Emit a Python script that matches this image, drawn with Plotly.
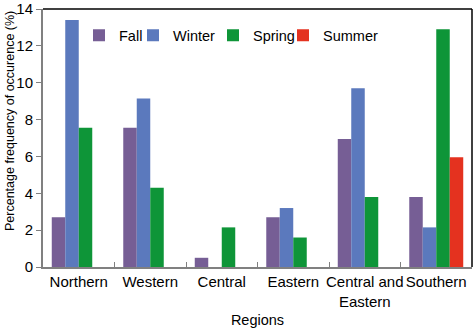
import plotly.graph_objects as go

regions = ["Northern", "Western", "Central", "Eastern", "Central and<br>Eastern", "Southern"]
fall = [2.7, 7.55, 0.5, 2.7, 6.95, 3.8]
winter = [13.4, 9.15, 0, 3.2, 9.7, 2.15]
spring = [7.55, 4.3, 2.15, 1.6, 3.8, 12.9]
summer = [0, 0, 0, 0, 0, 5.95]
y_ticks = [0, 2, 4, 6, 8, 10, 12, 14]

colors = {"Fall": "#765E95", "Winter": "#5B79BD", "Spring": "#0E9538", "Summer": "#E4321F"}
series = [("Fall", fall), ("Winter", winter), ("Spring", spring), ("Summer", summer)]
legend_ids = ["legend", "legend2", "legend3", "legend4"]

fig = go.Figure()
for (name, vals), lg in zip(series, legend_ids):
    fig.add_trace(go.Bar(x=regions, y=vals, name=name, legend=lg, showlegend=True,
                         marker=dict(color=colors[name], line=dict(width=0))))

L, R, T, B = 43, 472, 9, 267
def lx(center_px):
    return (center_px - 20 - L) / (R - L)

legend_centers = [99, 153, 233, 303]
leg_common = dict(orientation="h", y=0.96, xanchor="left", yanchor="top",
                  font=dict(size=14.5), itemwidth=30, bgcolor="rgba(0,0,0,0)")
legends = {}
for lg, c in zip(legend_ids, legend_centers):
    legends[lg] = dict(x=lx(c), **leg_common)

fig.update_layout(
    width=473, height=328,
    showlegend=True,
    margin=dict(l=L, r=473 - R, t=T, b=328 - B, autoexpand=False),
    barmode="group", bargap=0.245, bargroupgap=0,
    plot_bgcolor="white", paper_bgcolor="white",
    font=dict(family="Liberation Sans, Arial, sans-serif", size=14, color="black"),
    xaxis=dict(showline=True, linecolor="#808080", linewidth=2, ticks="inside",
               tickson="boundaries", ticklen=5, tickcolor="#808080", tickwidth=1,
               tickangle=0, automargin=False,
               title=dict(text="Regions", font=dict(size=14.5), standoff=8),
               tickfont=dict(size=15)),
    yaxis=dict(range=[0, 14], tickvals=y_ticks, showline=True, linecolor="#808080",
               linewidth=2, ticks="outside", ticklen=5, tickcolor="#808080",
               showgrid=False, zeroline=False, automargin=False,
               ticklabeloverflow="allow",
               tickfont=dict(size=15)),
    annotations=[
        dict(text="Percentage frequency of occurence (%)", textangle=-90,
             xref="paper", yref="paper", x=(10 - L) / (R - L), y=(B - 121) / (B - T),
             xanchor="center", yanchor="middle", showarrow=False,
             font=dict(size=12.5)),
    ],
    shapes=[
        dict(type="line", xref="paper", yref="paper", x0=0, x1=1, y0=1, y1=1,
             line=dict(color="black", width=1.5)),
        dict(type="line", xref="paper", yref="paper", x0=1, x1=1, y0=0, y1=1,
             line=dict(color="black", width=1.5)),
    ],
    **legends,
)

fig.write_html("out.html", config={"displayModeBar": False},
               post_script="document.body.style.margin='0px';")
